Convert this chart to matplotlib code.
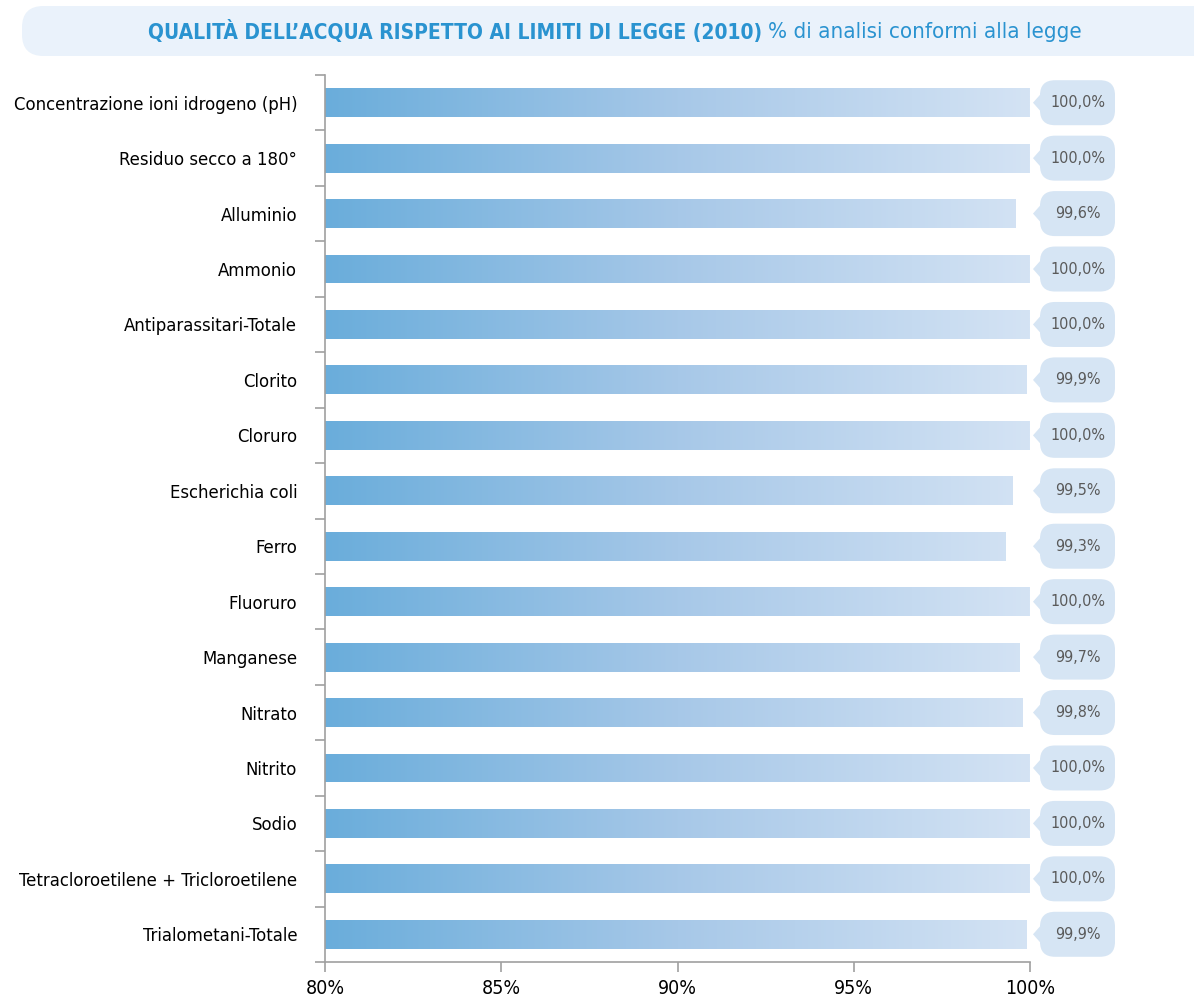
import numpy as np
import matplotlib
matplotlib.use("Agg")
import matplotlib.pyplot as plt
from matplotlib.colors import LinearSegmentedColormap
from matplotlib.patches import FancyBboxPatch, Polygon

plt.rcParams['font.family'] = ['DejaVu Sans']
plt.rcParams['font.stretch'] = 'condensed'

categories = [
    "Concentrazione ioni idrogeno (pH)",
    "Residuo secco a 180°",
    "Alluminio",
    "Ammonio",
    "Antiparassitari-Totale",
    "Clorito",
    "Cloruro",
    "Escherichia coli",
    "Ferro",
    "Fluoruro",
    "Manganese",
    "Nitrato",
    "Nitrito",
    "Sodio",
    "Tetracloroetilene + Tricloroetilene",
    "Trialometani-Totale",
]
values = [100.0, 100.0, 99.6, 100.0, 100.0, 99.9, 100.0, 99.5,
          99.3, 100.0, 99.7, 99.8, 100.0, 100.0, 100.0, 99.9]
xticks = [80, 85, 90, 95, 100]
xticklabels = ["80%", "85%", "90%", "95%", "100%"]

grad = LinearSegmentedColormap.from_list("g", ["#6aaddb", "#a7c8e8", "#d4e3f4"])
bubble_col = "#d6e5f4"
W, H = 1194, 999

fig = plt.figure(figsize=(W / 100, H / 100), dpi=100)
ax = fig.add_axes([325 / W, 1 - 962 / H, 705 / W, (962 - 75) / H])

ypos = np.arange(len(categories))
bh = 0.52
bars = ax.barh(ypos, [v - 80 for v in values], left=80, height=bh,
               color="none", edgecolor="none")
gimg = np.linspace(0, 1, 256).reshape(1, -1)
for y, b in zip(ypos, bars):
    im = ax.imshow(gimg, cmap=grad, aspect="auto",
                   extent=(80, 100, y + bh / 2, y - bh / 2), zorder=2)
    im.set_clip_path(b)

ax.set_xlim(80, 100)
ax.set_ylim(len(categories) - 0.5, -0.5)

# value bubbles to the right of the axis
sx = 20 / 705  # data units per pixel in x
sy = 1 / 55.44
for y, v in zip(ypos, values):
    x0 = 100 + 10 * sx
    w = 75 * sx
    h = 45 * sy
    box = FancyBboxPatch((x0, y - h / 2), w, h,
                         boxstyle="round,pad=0,rounding_size=%f" % (15 * sx),
                         mutation_aspect=sy / sx,
                         fc=bubble_col, ec="none", clip_on=False, zorder=3)
    ax.add_patch(box)
    tri = Polygon([(100 + 3 * sx, y), (x0 + 1 * sx, y - 9 * sy), (x0 + 1 * sx, y + 9 * sy)],
                  closed=True, fc=bubble_col, ec="none", clip_on=False, zorder=3)
    ax.add_patch(tri)
    ax.text(x0 + w / 2, y, ("%.1f%%" % v).replace(".", ","), ha="center", va="center",
            fontsize=11.5, color="#5a5a5a", zorder=4, clip_on=False)

for s in ["top", "right"]:
    ax.spines[s].set_visible(False)
for s in ["left", "bottom"]:
    ax.spines[s].set_color("#a0a0a0")
    ax.spines[s].set_linewidth(1.2)

ax.set_yticks(ypos)
ax.set_yticklabels(categories, fontsize=13.2)
ax.set_yticks(np.arange(-0.5, len(categories), 1), minor=True)
ax.tick_params(axis="y", which="major", length=0, pad=20)
ax.tick_params(axis="y", which="minor", length=7, color="#a0a0a0", width=1.2)
ax.set_xticks(xticks)
ax.set_xticklabels(xticklabels, fontsize=14)
ax.tick_params(axis="x", length=7, color="#a0a0a0", width=1.2, pad=5)

# title banner
fig.patches.append(FancyBboxPatch((22 / W, 1 - 56 / H), (W + 30) / W, 50 / H,
                                  boxstyle="round,pad=0,rounding_size=0.018",
                                  mutation_aspect=W / H,
                                  transform=fig.transFigure, fc="#eaf2fb", ec="none"))
tcol = "#2a93d0"
fig.text(762 / W, 1 - 32 / H, "QUALITÀ DELL\u2019ACQUA RISPETTO AI LIMITI DI LEGGE (2010)",
         ha="right", va="center", fontsize=15, fontweight="bold", color=tcol)
fig.text(768 / W, 1 - 32 / H, "% di analisi conformi alla legge",
         ha="left", va="center", fontsize=16, color=tcol)

fig.savefig("out.png", dpi=100)
